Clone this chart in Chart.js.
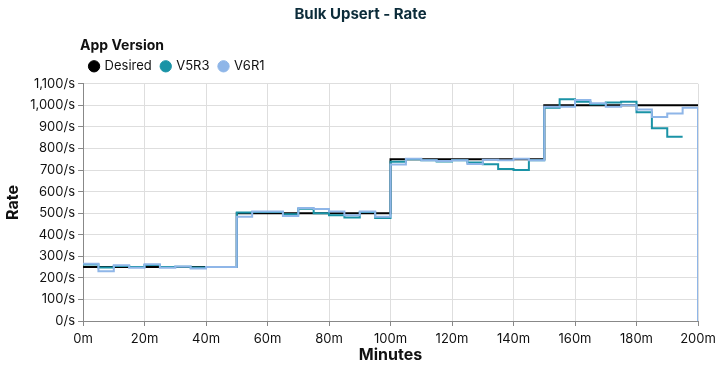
<!DOCTYPE html>
<html>
<head>
<meta charset="utf-8">
<script src="https://cdn.jsdelivr.net/npm/chart.js@4"></script>
<style>
  html, body { margin: 0; padding: 0; background: #fff; }
  #wrap { width: 717px; height: 367px; }
</style>
</head>
<body>
<div id="wrap"><canvas id="rateChart"></canvas></div>
<script>
// minutes since start, one sample every 5 minutes
const minutes = [0, 5, 10, 15, 20, 25, 30, 35, 40, 45,
  50, 55, 60, 65, 70, 75, 80, 85, 90, 95,
  100, 105, 110, 115, 120, 125, 130, 135, 140, 145,
  150, 155, 160, 165, 170, 175, 180, 185, 190, 195, 200];

const desired = [250, 250, 250, 250, 250, 250, 250, 250, 250, 250,
  500, 500, 500, 500, 500, 500, 500, 500, 500, 500,
  750, 750, 750, 750, 750, 750, 750, 750, 750, 750,
  1000, 1000, 1000, 1000, 1000, 1000, 1000, 1000, 1000, 1000, 1000];

const v5r3 = [262, 248, 255, 250, 260, 250, 252, 248, 250, 250,
  503, 505, 506, 495, 520, 500, 490, 480, 505, 478,
  738, 750, 746, 740, 745, 735, 727, 705, 700, 745,
  989, 1028, 1017, 1005, 1013, 1017, 968, 894, 855, 855, null];

const v6r1 = [266, 231, 258, 247, 263, 247, 253, 244, 250, 250,
  483, 508, 508, 487, 524, 519, 508, 490, 508, 484,
  726, 753, 745, 742, 745, 728, 748, 745, 752, 745,
  994, 994, 1025, 1010, 994, 1000, 981, 946, 962, 989, 0];

const yTicks = [0, 100, 200, 300, 400, 500, 600, 700, 800, 900, 1000, 1100];
const xTicks = [0, 20, 40, 60, 80, 100, 120, 140, 160, 180, 200];

const FONT = 'Inter, "Noto Sans", sans-serif';

function pts(vals) {
  return minutes.map((m, i) => ({ x: m, y: vals[i] }));
}

// legend starts at the plot area's left edge, with a little room below it
const legendTweak = {
  id: 'legendTweak',
  afterInit(chart) {
    const lg = chart.legend;
    const fit = lg.fit;
    lg.fit = function () {
      fit.call(this);
      this.height += 1;
    };
  },
  afterLayout(chart) {
    const lg = chart.legend;
    const dx = chart.chartArea.left - lg.left - 3;
    lg.left += dx;
    lg.right += dx;
  }
};

new Chart(document.getElementById('rateChart'), {
  type: 'line',
  data: {
    datasets: [
      { label: 'Desired', data: pts(desired), borderColor: '#000000', backgroundColor: '#000000', order: 2 },
      { label: 'V5R3', data: pts(v5r3), borderColor: '#1a93a6', backgroundColor: '#1a93a6', order: 1 },
      { label: 'V6R1', data: pts(v6r1), borderColor: '#8fb6e8', backgroundColor: '#8fb6e8', order: 0 }
    ]
  },
  options: {
    responsive: true,
    maintainAspectRatio: false,
    animation: false,
    layout: { padding: { left: 4, right: 0, bottom: 0 } },
    elements: {
      line: { borderWidth: 2, stepped: 'before', tension: 0 },
      point: { radius: 0, hoverRadius: 0 }
    },
    plugins: {
      title: {
        display: true,
        text: 'Bulk Upsert - Rate',
        color: '#0c2c3a',
        font: { family: FONT, size: 15, weight: 'bold' },
        padding: { top: 5, bottom: 16 }
      },
      legend: {
        position: 'top',
        align: 'start',
        title: {
          display: true,
          text: 'App Version',
          position: 'start',
          color: '#111',
          font: { family: FONT, size: 14, weight: 'bold' },
          padding: { top: 0, bottom: -6 }
        },
        labels: {
          usePointStyle: true,
          pointStyle: 'circle',
          boxWidth: 8,
          boxHeight: 8,
          padding: 10,
          color: '#111',
          font: { family: FONT, size: 13 },
          sort: (a, b) => a.datasetIndex - b.datasetIndex
        }
      },
      tooltip: { enabled: false }
    },
    scales: {
      x: {
        type: 'linear',
        min: 0,
        max: 200,
        afterBuildTicks: axis => { axis.ticks = xTicks.map(v => ({ value: v })); },
        afterFit: axis => { axis.paddingRight = 19; },
        ticks: {
          color: '#111',
          font: { family: FONT, size: 13, lineHeight: 1 },
          maxRotation: 0,
          padding: 7,
          callback: v => v + 'm'
        },
        grid: { color: '#dedede', tickColor: '#888', tickLength: 5 },
        border: { color: '#888' },
        title: {
          display: true,
          text: 'Minutes',
          color: '#111',
          font: { family: FONT, size: 16, weight: 'bold', lineHeight: 1 },
          padding: { top: -6, bottom: 4 }
        }
      },
      y: {
        min: 0,
        max: 1100,
        afterBuildTicks: axis => { axis.ticks = yTicks.map(v => ({ value: v })); },
        ticks: {
          color: '#111',
          font: { family: FONT, size: 13 },
          padding: 3,
          callback: v => v.toLocaleString('en-US') + '/s'
        },
        grid: { color: '#dedede', tickColor: '#888', tickLength: 5 },
        border: { color: '#888' },
        title: {
          display: true,
          text: 'Rate',
          color: '#111',
          font: { family: FONT, size: 16, weight: 'bold' },
          padding: { top: 0, bottom: 4 }
        }
      }
    }
  },
  plugins: [legendTweak]
});
</script>
</body>
</html>
